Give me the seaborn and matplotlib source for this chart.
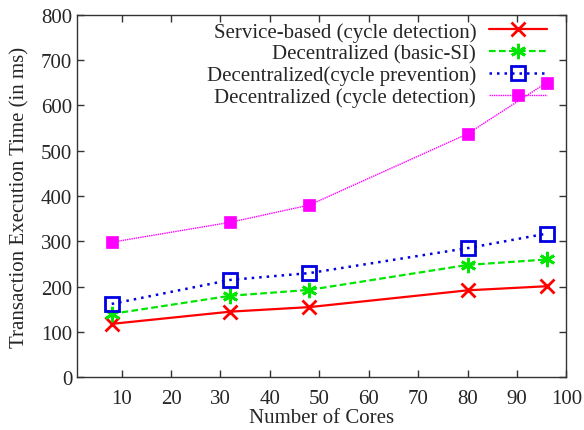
import matplotlib
matplotlib.use("Agg")
import matplotlib.pyplot as plt
import seaborn as sns
import pandas as pd

cores = [8, 32, 48, 80, 96]
service_cycle_detection = [118, 145, 155, 192, 201]
decentral_basic_si = [140, 180, 193, 248, 260]
decentral_cycle_prevention = [162, 215, 230, 285, 317]
decentral_cycle_detection = [298, 342, 380, 537, 650]

series_labels = [
    "Service-based (cycle detection)",
    "Decentralized (basic-SI)",
    "Decentralized(cycle prevention)",
    "Decentralized (cycle detection)",
]
x_ticks = [10, 20, 30, 40, 50, 60, 70, 80, 90, 100]
y_ticks = [0, 100, 200, 300, 400, 500, 600, 700, 800]

sns.set_theme(style="ticks")
plt.rcParams["font.family"] = ["Liberation Serif", "DejaVu Serif"]

FS = 15

fig = plt.figure(figsize=(5.84, 4.31), dpi=100)
ax = fig.add_axes([0.132, 0.122, 0.838, 0.842])

styles = [
    dict(color="#ff0000", linestyle="-", marker="x", markersize=9.5, markeredgewidth=2,
         markeredgecolor="#ff0000", markerfacecolor="#ff0000", linewidth=1.6),
    dict(color="#00e600", linestyle=(0, (3, 1.5)), marker=(6, 2, 0), markersize=11, markeredgewidth=2,
         markeredgecolor="#00e600", markerfacecolor="#00e600", linewidth=1.6),
    dict(color="#0000e0", linestyle=(0, (1, 2)), marker="s", markersize=9.5, markeredgewidth=2,
         markeredgecolor="#0000e0", markerfacecolor="none", linewidth=1.8),
    dict(color="#ff00ff", linestyle=(0, (1, 0.6)), marker="s", markersize=9, markeredgewidth=0.5,
         markeredgecolor="#ff00ff", markerfacecolor="#ff00ff", linewidth=1.0),
]
values = [service_cycle_detection, decentral_basic_si, decentral_cycle_prevention, decentral_cycle_detection]

for label, vals, st in zip(series_labels, values, styles):
    df = pd.DataFrame({"cores": cores, "time": vals})
    n_before = len(ax.lines)
    sns.lineplot(data=df, x="cores", y="time", ax=ax, label=label, color=st["color"])
    line = ax.lines[n_before]
    line.set(**st)

ax.set_xlim(1, 100)
ax.set_ylim(0, 800)
ax.set_xticks(x_ticks)
ax.set_yticks(y_ticks)
ax.tick_params(direction="in", top=True, right=True, length=5, width=1, labelsize=FS, color="#333333")
ax.tick_params(axis="x", pad=8)
for sp in ax.spines.values():
    sp.set_color("#333333")
    sp.set_linewidth(1.0)
ax.set_xlabel("Number of Cores", fontsize=FS, labelpad=0)
ax.set_ylabel("Transaction Execution Time (in ms)", fontsize=FS, labelpad=8)

leg = ax.legend(loc="upper right", bbox_to_anchor=(547 / 584, 1 - 23 / 431),
                bbox_transform=fig.transFigure, frameon=False, markerfirst=False,
                fontsize=FS, handlelength=2.8, labelspacing=0.1, handletextpad=0.6,
                borderaxespad=0, borderpad=0)

fig.savefig("out.png", dpi=100)
